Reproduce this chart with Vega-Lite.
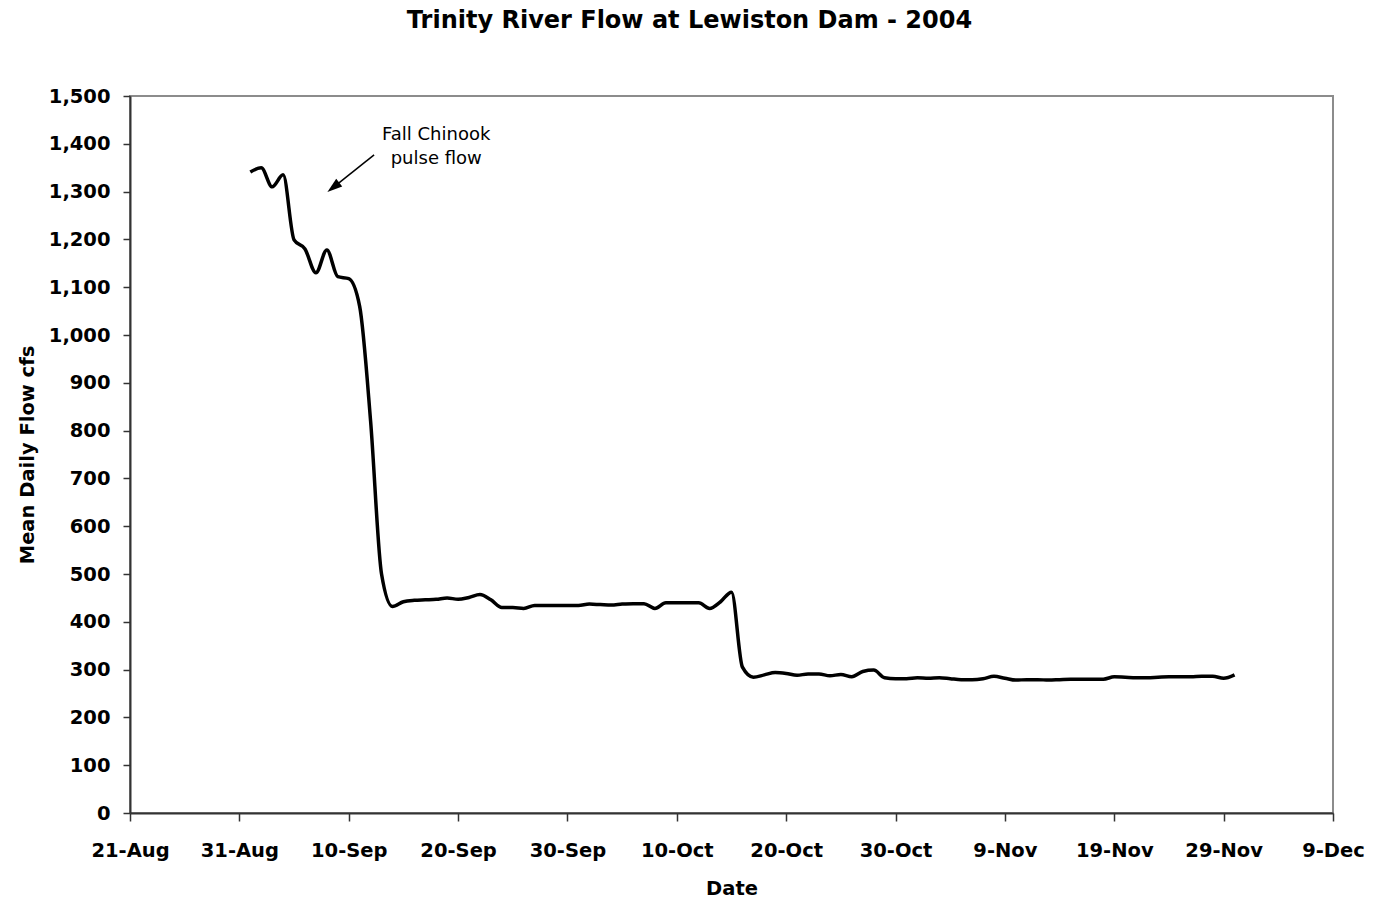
{
  "$schema": "https://vega.github.io/schema/vega-lite/v6.json",
  "autosize": {"type": "none"},
  "padding": {"left": 130, "top": 96, "right": 40, "bottom": 91},
  "width": 1203,
  "height": 717,
  "background": "white",
  "title": {
    "text": "Trinity River Flow at Lewiston Dam - 2004",
    "font": "DejaVu Sans",
    "fontSize": 24,
    "fontWeight": "bold",
    "color": "black",
    "anchor": "middle",
    "frame": "group",
    "dx": -42,
    "baseline": "alphabetic",
    "offset": 34
  },
  "config": {
    "view": {"stroke": "#8c8c8c", "strokeWidth": 2},
    "axis": {
      "labelFont": "DejaVu Sans",
      "labelFontWeight": "bold",
      "labelFontSize": 19.5,
      "labelColor": "black",
      "titleFont": "DejaVu Sans",
      "titleFontWeight": "bold",
      "titleFontSize": 19.5,
      "titleColor": "black",
      "domainColor": "#333333",
      "domainWidth": 2,
      "tickColor": "#333333",
      "tickWidth": 1.5,
      "grid": false
    }
  },
  "layer": [
    {
      "data": {
        "values": [
          {"date": "2004/09/01", "flow": 1341},
          {"date": "2004/09/02", "flow": 1350},
          {"date": "2004/09/03", "flow": 1310},
          {"date": "2004/09/04", "flow": 1335},
          {"date": "2004/09/05", "flow": 1199},
          {"date": "2004/09/06", "flow": 1180},
          {"date": "2004/09/07", "flow": 1130},
          {"date": "2004/09/08", "flow": 1178},
          {"date": "2004/09/09", "flow": 1122},
          {"date": "2004/09/10", "flow": 1118},
          {"date": "2004/09/11", "flow": 1060},
          {"date": "2004/09/12", "flow": 820},
          {"date": "2004/09/13", "flow": 500},
          {"date": "2004/09/14", "flow": 432},
          {"date": "2004/09/15", "flow": 442},
          {"date": "2004/09/16", "flow": 445},
          {"date": "2004/09/17", "flow": 446},
          {"date": "2004/09/18", "flow": 447},
          {"date": "2004/09/19", "flow": 450},
          {"date": "2004/09/20", "flow": 447},
          {"date": "2004/09/21", "flow": 451},
          {"date": "2004/09/22", "flow": 457},
          {"date": "2004/09/23", "flow": 446},
          {"date": "2004/09/24", "flow": 430},
          {"date": "2004/09/25", "flow": 430},
          {"date": "2004/09/26", "flow": 428},
          {"date": "2004/09/27", "flow": 434},
          {"date": "2004/09/28", "flow": 434},
          {"date": "2004/09/29", "flow": 434},
          {"date": "2004/09/30", "flow": 434},
          {"date": "2004/10/01", "flow": 434},
          {"date": "2004/10/02", "flow": 437},
          {"date": "2004/10/03", "flow": 436},
          {"date": "2004/10/04", "flow": 435},
          {"date": "2004/10/05", "flow": 437},
          {"date": "2004/10/06", "flow": 438},
          {"date": "2004/10/07", "flow": 438},
          {"date": "2004/10/08", "flow": 428},
          {"date": "2004/10/09", "flow": 440},
          {"date": "2004/10/10", "flow": 440},
          {"date": "2004/10/11", "flow": 440},
          {"date": "2004/10/12", "flow": 440},
          {"date": "2004/10/13", "flow": 428},
          {"date": "2004/10/14", "flow": 442},
          {"date": "2004/10/15", "flow": 462},
          {"date": "2004/10/16", "flow": 305},
          {"date": "2004/10/17", "flow": 284},
          {"date": "2004/10/18", "flow": 289},
          {"date": "2004/10/19", "flow": 294},
          {"date": "2004/10/20", "flow": 292},
          {"date": "2004/10/21", "flow": 288},
          {"date": "2004/10/22", "flow": 291},
          {"date": "2004/10/23", "flow": 291},
          {"date": "2004/10/24", "flow": 287},
          {"date": "2004/10/25", "flow": 290},
          {"date": "2004/10/26", "flow": 285},
          {"date": "2004/10/27", "flow": 296},
          {"date": "2004/10/28", "flow": 299},
          {"date": "2004/10/29", "flow": 283},
          {"date": "2004/10/30", "flow": 281},
          {"date": "2004/10/31", "flow": 281},
          {"date": "2004/11/01", "flow": 283},
          {"date": "2004/11/02", "flow": 282},
          {"date": "2004/11/03", "flow": 283},
          {"date": "2004/11/04", "flow": 281},
          {"date": "2004/11/05", "flow": 279},
          {"date": "2004/11/06", "flow": 279},
          {"date": "2004/11/07", "flow": 281},
          {"date": "2004/11/08", "flow": 286},
          {"date": "2004/11/09", "flow": 282},
          {"date": "2004/11/10", "flow": 278},
          {"date": "2004/11/11", "flow": 279},
          {"date": "2004/11/12", "flow": 279},
          {"date": "2004/11/13", "flow": 278},
          {"date": "2004/11/14", "flow": 279},
          {"date": "2004/11/15", "flow": 280},
          {"date": "2004/11/16", "flow": 280},
          {"date": "2004/11/17", "flow": 280},
          {"date": "2004/11/18", "flow": 280},
          {"date": "2004/11/19", "flow": 285},
          {"date": "2004/11/20", "flow": 284},
          {"date": "2004/11/21", "flow": 283},
          {"date": "2004/11/22", "flow": 283},
          {"date": "2004/11/23", "flow": 284},
          {"date": "2004/11/24", "flow": 285},
          {"date": "2004/11/25", "flow": 285},
          {"date": "2004/11/26", "flow": 285},
          {"date": "2004/11/27", "flow": 286},
          {"date": "2004/11/28", "flow": 286},
          {"date": "2004/11/29", "flow": 282},
          {"date": "2004/11/30", "flow": 289}
        ]
      },
      "mark": {"type": "line", "color": "black", "strokeWidth": 3.5, "interpolate": "monotone"},
      "encoding": {
        "x": {
          "field": "date",
          "type": "temporal",
          "scale": {"domain": [{"year": 2004, "month": 8, "date": 21}, {"year": 2004, "month": 12, "date": 9}]},
          "axis": {
            "title": "Date",
            "format": "%-d-%b",
            "values": [
              {"year": 2004, "month": 8, "date": 21},
              {"year": 2004, "month": 8, "date": 31},
              {"year": 2004, "month": 9, "date": 10},
              {"year": 2004, "month": 9, "date": 20},
              {"year": 2004, "month": 9, "date": 30},
              {"year": 2004, "month": 10, "date": 10},
              {"year": 2004, "month": 10, "date": 20},
              {"year": 2004, "month": 10, "date": 30},
              {"year": 2004, "month": 11, "date": 9},
              {"year": 2004, "month": 11, "date": 19},
              {"year": 2004, "month": 11, "date": 29},
              {"year": 2004, "month": 12, "date": 9}
            ],
            "tickSize": 8,
            "labelPadding": 20,
            "labelOverlap": false,
            "labelFlush": false,
            "titlePadding": 20
          }
        },
        "y": {
          "field": "flow",
          "type": "quantitative",
          "scale": {"domain": [0, 1500], "nice": false},
          "axis": {
            "title": "Mean Daily Flow cfs",
            "format": ",d",
            "values": [0, 100, 200, 300, 400, 500, 600, 700, 800, 900, 1000, 1100, 1200, 1300, 1400, 1500],
            "tickSize": 7,
            "labelPadding": 13,
            "labelOverlap": false,
            "labelFlush": false,
            "titlePadding": 11
          }
        }
      }
    },
    {
      "data": {"values": [{"x1": "2004/09/12 07:40", "y1": 1377, "x2": "2004/09/08 14:10", "y2": 1309}]},
      "mark": {"type": "rule", "color": "black", "strokeWidth": 1.5},
      "encoding": {
        "x": {"field": "x1", "type": "temporal"},
        "y": {"field": "y1", "type": "quantitative"},
        "x2": {"field": "x2"},
        "y2": {"field": "y2"}
      }
    },
    {
      "data": {"values": [{"x": "2004/09/08 14:10", "y": 1309}]},
      "mark": {"type": "point", "shape": "M0,-1 L0.65,1 L-0.65,1 Z", "filled": true, "color": "black", "opacity": 1, "size": 225, "angle": 232},
      "encoding": {
        "x": {"field": "x", "type": "temporal"},
        "y": {"field": "y", "type": "quantitative"}
      }
    },
    {
      "data": {"values": [{"x": "2004/09/18", "y": 1408, "label": "Fall Chinook\npulse flow"}]},
      "mark": {"type": "text", "font": "DejaVu Sans", "fontSize": 18, "color": "black", "align": "center", "baseline": "alphabetic", "lineBreak": "\n", "lineHeight": 24.5},
      "encoding": {
        "x": {"field": "x", "type": "temporal"},
        "y": {"field": "y", "type": "quantitative"},
        "text": {"field": "label"}
      }
    }
  ]
}
